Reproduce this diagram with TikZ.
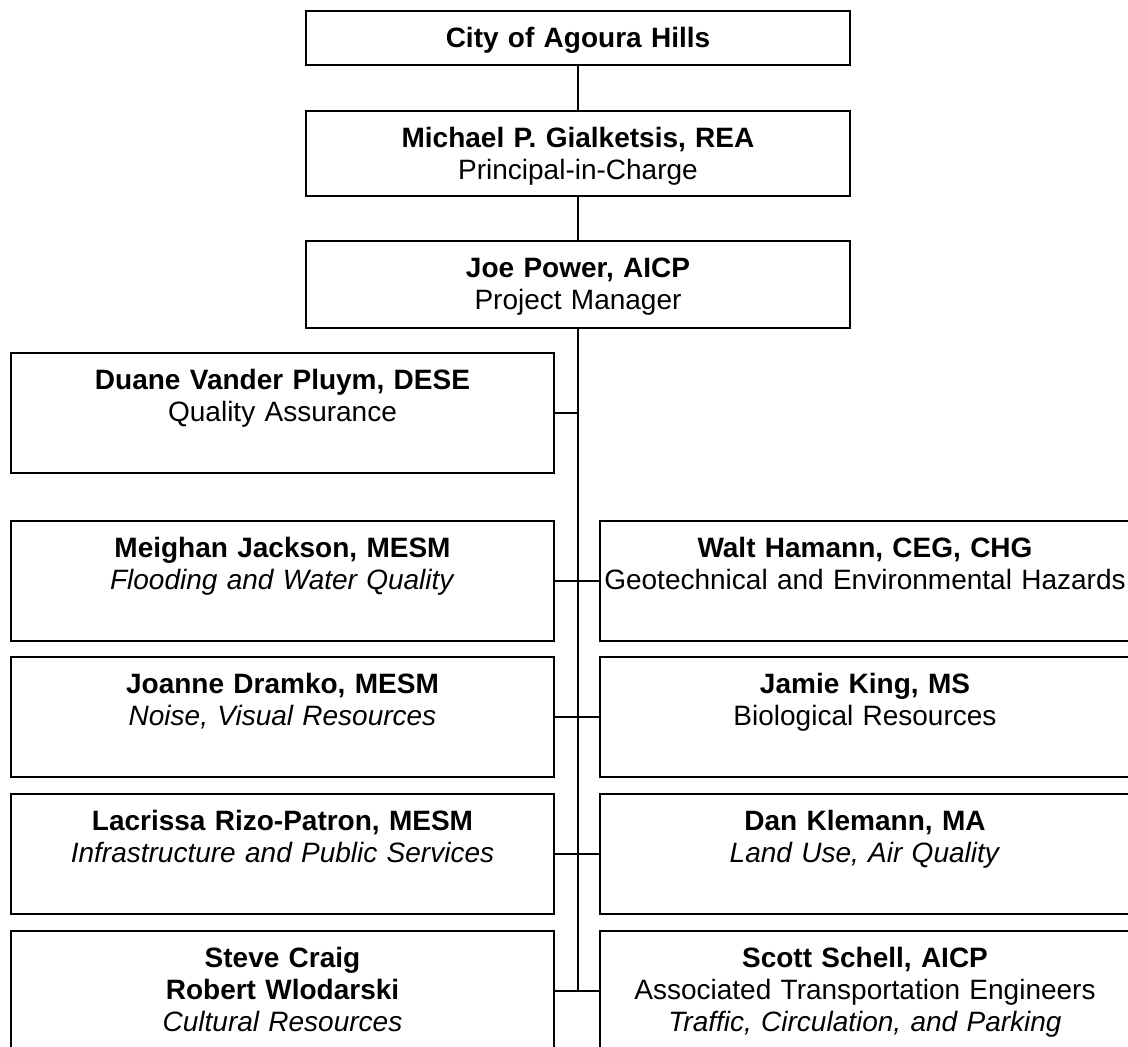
\documentclass[tikz,border=0pt]{standalone}
\usepackage{fontspec}
\setmainfont{Liberation Sans}
\usetikzlibrary{positioning}

\tikzset{
	box/.style 2 args={draw, line width=2pt, inner sep=0pt, align=center,
		text width=#1, text height=36pt, text depth=#2,
		anchor=north west, font=\fontsize{28pt}{32pt}\selectfont},
	link/.style={line width=1.6pt},
}

\begin{document}
\begin{tikzpicture}[x=1pt,y=-1pt]
	\useasboundingbox (0,0) rectangle (1128,1047);
	% upper chain
	\node[box={544pt}{18pt}] (city) at (305,10) {\textbf{City of Agoura Hills}};
	\node[box={544pt}{49pt}] (pic) at (305,110) {\textbf{Michael P. Gialketsis, REA}\\Principal-in-Charge};
	\node[box={544pt}{51pt}] (pm) at (305,240) {\textbf{Joe Power, AICP}\\Project Manager};
	\node[box={543pt}{84pt}] (qa) at (10,352) {\textbf{Duane Vander Pluym, DESE}\\Quality Assurance};
	% left column
	\node[box={543pt}{84pt}] (water) at (10,520) {\textbf{Meighan Jackson, MESM}\\\textit{Flooding and Water Quality}};
	\node[box={543pt}{84pt}] (noise) at (10,656) {\textbf{Joanne Dramko, MESM}\\\textit{Noise, Visual Resources}};
	\node[box={543pt}{84pt}] (infra) at (10,793) {\textbf{Lacrissa Rizo-Patron, MESM}\\\textit{Infrastructure and Public Services}};
	\node[box={543pt}{84pt}] (culture) at (10,930) {\textbf{Steve Craig}\\\textbf{Robert Wlodarski}\\\textit{Cultural Resources}};
	% right column
	\node[box={530pt}{84pt}] (geo) at (599,520) {\textbf{Walt Hamann, CEG, CHG}\\Geotechnical and Environmental Hazards};
	\node[box={530pt}{84pt}] (bio) at (599,656) {\textbf{Jamie King, MS}\\Biological Resources};
	\node[box={530pt}{84pt}] (land) at (599,793) {\textbf{Dan Klemann, MA}\\\textit{Land Use, Air Quality}};
	\node[box={530pt}{84pt}] (traffic) at (599,930) {\textbf{Scott Schell, AICP}\\Associated Transportation Engineers\\\textit{Traffic, Circulation, and Parking}};

	\draw[link] (city) -- (pic);
	\draw[link] (pic) -- (pm);
	\draw[link] (pm) -- (pm |- culture.east);
	\draw[link] (qa.east) -- (qa.east -| pm.south);
	\draw[link] (water) -- (geo);
	\draw[link] (noise) -- (bio);
	\draw[link] (infra) -- (land);
	\draw[link] (culture) -- (traffic);
\end{tikzpicture}
\end{document}
